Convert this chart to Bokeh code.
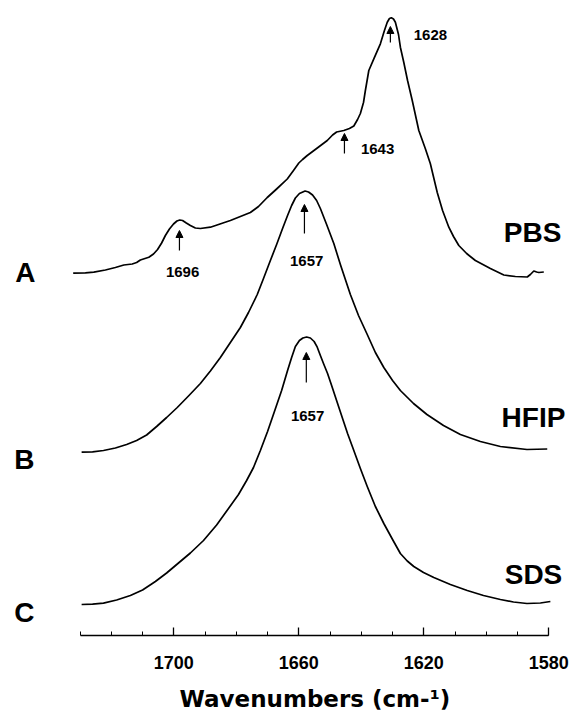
import numpy as np
from bokeh.plotting import figure
from bokeh.models import (Range1d, LinearAxis, FixedTicker, ColumnDataSource,
                          Arrow, NormalHead, Title)
from bokeh.core.properties import value
from bokeh.embed import file_html
from bokeh.resources import INLINE

FONT = "Liberation Sans"

# ---------------- data (absorbance, arbitrary units, vs wavenumber cm-1) ----------------
wn_A = [1732.2, 1728.3, 1725.6, 1721.9, 1718.7, 1716.0, 1713.3, 1711.9, 1710.7, 1708.0,
        1706.5, 1705.2, 1703.9, 1702.7, 1701.4, 1700.1, 1699.0, 1698.1, 1697.2, 1696.0,
        1694.7, 1693.1, 1691.5, 1688.3, 1681.9, 1675.5, 1672.9, 1670.1, 1667.1, 1663.7,
        1661.7, 1660.0, 1658.8, 1657.3, 1654.3, 1650.9, 1649.2, 1647.9, 1645.6, 1643.8,
        1642.4, 1641.2, 1640.3, 1639.3, 1638.7, 1637.6, 1636.0, 1633.9, 1632.6, 1631.7,
        1631.0, 1630.4, 1629.7, 1629.1, 1628.1, 1627.5, 1626.4, 1625.2, 1623.7, 1621.6,
        1619.5, 1617.9, 1615.7, 1614.0, 1612.0, 1610.5, 1608.8, 1606.3, 1603.5, 1598.7,
        1594.4, 1590.7, 1586.9, 1585.9, 1584.8, 1583.9, 1583.2, 1581.6]
abs_A = [0.3, 0.7, 1.3, 3.5, 6.0, 8.5, 9.5, 11.0, 13.5, 16.3,
         19.5, 24.0, 30.5, 38.0, 44.5, 49.5, 52.5, 53.5, 53.0, 50.5,
         48.0, 45.5, 45.0, 46.3, 53.0, 61.0, 67.0, 76.0, 84.5, 94.5,
         103.0, 110.5, 114.0, 118.0, 125.0, 133.0, 138.5, 141.5, 143.0, 145.0,
         147.5, 154.0, 160.0, 171.0, 183.0, 203.0, 214.7, 229.7, 243.0, 251.3,
         255.0, 255.7, 254.5, 251.3, 239.0, 226.3, 211.0, 193.0, 173.0, 143.0,
         124.7, 109.7, 81.0, 63.0, 46.3, 37.0, 28.0, 20.0, 13.0, 5.0,
         -1.5, -3.0, -3.5, -1.0, 2.5, 1.5, 1.0, 1.5]

wn_B = [1729.5, 1726.0, 1722.5, 1718.7, 1715.1, 1711.9, 1708.7, 1705.5, 1702.3, 1698.9,
        1695.3, 1691.5, 1688.3, 1685.1, 1681.9, 1678.7, 1676.1, 1673.3, 1671.3, 1669.1,
        1667.1, 1665.2, 1663.6, 1662.3, 1661.1, 1659.8, 1658.0, 1656.9, 1655.6, 1654.3,
        1653.1, 1651.1, 1648.8, 1646.7, 1643.5, 1640.9, 1638.1, 1635.5, 1632.8, 1630.0,
        1627.5, 1623.3, 1619.0, 1613.7, 1608.3, 1601.9, 1595.5, 1587.0, 1580.5]
abs_B = [0.3, 0.7, 2.0, 4.5, 8.0, 12.0, 17.5, 26.0, 35.0, 45.0,
         56.5, 69.0, 81.5, 95.0, 110.0, 125.0, 140.0, 158.0, 174.0, 192.0,
         208.0, 224.0, 237.0, 247.0, 254.5, 259.0, 261.5, 260.5, 257.5, 252.0,
         244.0, 228.0, 209.0, 188.0, 158.0, 137.0, 118.0, 100.0, 85.0, 72.0,
         62.0, 49.0, 38.0, 27.0, 18.0, 11.0, 6.0, 3.0, 3.5]

wn_C = [1729.5, 1726.0, 1722.5, 1718.3, 1713.9, 1710.0, 1705.9, 1702.3, 1698.5, 1694.7,
        1690.5, 1686.3, 1682.5, 1679.3, 1676.7, 1674.5, 1672.3, 1670.0, 1667.8, 1665.5,
        1663.6, 1662.3, 1661.1, 1659.8, 1658.7, 1657.5, 1656.3, 1655.1, 1654.1, 1653.1,
        1652.1, 1650.8, 1649.5, 1647.7, 1646.0, 1644.4, 1642.4, 1640.3, 1638.1, 1635.5,
        1632.8, 1630.0, 1627.5, 1625.3, 1623.2, 1620.1, 1616.8, 1611.5, 1606.1, 1600.9,
        1595.5, 1591.3, 1587.0, 1582.7, 1579.5]
abs_C = [0.0, 0.4, 1.3, 4.5, 9.0, 14.5, 23.0, 31.5, 41.5, 51.5,
         64.0, 79.5, 96.0, 110.0, 124.0, 137.0, 154.0, 173.0, 193.0, 214.0,
         234.0, 247.0, 258.0, 264.0, 266.5, 267.5, 266.5, 263.0, 257.3, 249.0,
         241.0, 231.0, 219.0, 202.0, 186.0, 171.0, 154.0, 136.0, 118.0, 98.0,
         81.0, 65.0, 51.0, 43.5, 38.0, 32.0, 27.0, 20.0, 14.0, 9.0,
         5.0, 2.5, 1.0, 1.5, 3.0]

# vertical offsets of the stacked spectra
offsets = {"A": 362.0, "B": 183.0, "C": 31.0}
trace_letters = ["A", "B", "C"]
solvents = ["PBS", "HFIP", "SDS"]

# band assignments marked with arrows
peak_labels = ["1628", "1643", "1696", "1657", "1657"]
arrow_wn = [1630.7, 1645.4, 1698.2, 1658.2, 1657.6]
arrow_y0 = [593, 482, 385, 402, 253]
arrow_y1 = [609, 502, 405, 431, 283]
label_wn = [1617.9, 1634.8, 1697.2, 1657.5, 1657.2]
label_y = [601, 487, 364, 375, 220]

major_ticks = [1700, 1660, 1620, 1580]
minor_ticks = list(range(1580, 1731, 10))
x_title = "Wavenumbers (cm-\u00b9)"

# ---------------- figure ----------------
p = figure(width=571, height=725, output_backend="svg", toolbar_location=None,
           x_range=Range1d(1755.46, 1572.74), y_range=Range1d(0, 635),
           x_axis_type=None, y_axis_type=None,
           min_border_left=0, min_border_right=0, min_border_top=0,
           min_border_bottom=90)
p.outline_line_color = None
p.xgrid.visible = False
p.ygrid.visible = False
p.background_fill_color = "white"
p.border_fill_color = "white"

xaxis = LinearAxis(ticker=FixedTicker(ticks=major_ticks, minor_ticks=minor_ticks),
                   bounds=(1580, 1730))
xaxis.axis_line_width = 1.3
xaxis.axis_line_color = "black"
xaxis.major_tick_in = 8
xaxis.major_tick_out = 0
xaxis.minor_tick_in = 4
xaxis.minor_tick_out = 0
xaxis.major_tick_line_width = 1.3
xaxis.minor_tick_line_width = 1.0
xaxis.major_label_standoff = 20
xaxis.major_label_text_font = FONT
xaxis.major_label_text_font_style = "bold"
xaxis.major_label_text_font_size = "18px"
xaxis.major_label_text_color = "black"
p.add_layout(xaxis, "below")

# axis title, placed below the axis and centred under the axis line (1580-1730)
p.add_layout(Title(text=x_title, align="left", offset=179, standoff=25,
                   text_font="DejaVu Sans", text_font_style="bold",
                   text_font_size="23px", text_color="black"), "below")

for key, wn, ab in (("A", wn_A, abs_A), ("B", wn_B, abs_B), ("C", wn_C, abs_C)):
    p.line(wn, np.array(ab) + offsets[key], line_color="black", line_width=1.7,
           line_join="round")

# trace letters (left) and solvent names (right)
p.text(x=[1747.5, 1747.8, 1747.8], y=[363, 176, 23], text=trace_letters,
       text_font=value(FONT), text_font_style="bold", text_font_size="28px",
       text_align="center", text_baseline="middle", text_color="black")
p.text(x=[1585.2, 1584.9, 1584.9], y=[403, 218, 61], text=solvents,
       text_font=value(FONT), text_font_style="bold", text_font_size="28px",
       text_align="center", text_baseline="middle", text_color="black")

# peak labels
p.text(x=label_wn, y=label_y, text=peak_labels,
       text_font=value(FONT), text_font_style="bold", text_font_size="15px",
       text_align="center", text_baseline="middle", text_color="black")

# arrows
asrc = ColumnDataSource(dict(x0=arrow_wn, y0=arrow_y0, x1=arrow_wn, y1=arrow_y1))
p.add_layout(Arrow(end=NormalHead(size=7, fill_color="black", line_color="black",
                                  line_width=1),
                   x_start="x0", y_start="y0", x_end="x1", y_end="y1",
                   source=asrc, line_color="black", line_width=1.2))

open("out.html", "w").write(file_html(p, INLINE))
